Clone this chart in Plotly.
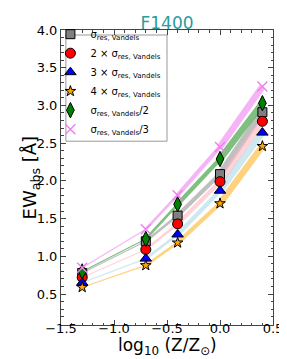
import plotly.graph_objects as go

# ---- data ----
log_z = [-1.3, -0.7, -0.4, 0.0, 0.4]
series_names = [
    "σ<sub>res, Vandels</sub>",
    "2 × σ<sub>res, Vandels</sub>",
    "3 × σ<sub>res, Vandels</sub>",
    "4 × σ<sub>res, Vandels</sub>",
    "σ<sub>res, Vandels</sub>/2",
    "σ<sub>res, Vandels</sub>/3",
]
ew_sigma = [0.78, 1.20, 1.54, 2.09, 2.91]
ew_2sigma = [0.72, 1.09, 1.43, 1.99, 2.79]
ew_3sigma = [0.65, 0.97, 1.29, 1.87, 2.64]
ew_4sigma = [0.59, 0.88, 1.18, 1.70, 2.46]
ew_half = [0.80, 1.23, 1.69, 2.29, 3.03]
ew_third = [0.85, 1.36, 1.81, 2.45, 3.25]
segment_widths = [1.2, 2.6, 4.2, 6.5]
x_ticks = [-1.5, -1.0, -0.5, 0.0, 0.5]
y_ticks = [0.5, 1.0, 1.5, 2.0, 2.5, 3.0, 3.5, 4.0]

all_series = [ew_sigma, ew_2sigma, ew_3sigma, ew_4sigma, ew_half, ew_third]
line_colors = [
    "rgba(128,128,128,0.5)",
    "rgba(255,182,193,0.6)",
    "rgba(173,216,230,0.6)",
    "rgba(255,165,0,0.5)",
    "rgba(0,128,0,0.5)",
    "rgba(238,130,238,0.6)",
]
markers = [
    dict(symbol="square", size=9, color="#808080", line=dict(color="black", width=1)),
    dict(symbol="circle", size=10, color="#ff0000", line=dict(color="black", width=1)),
    dict(symbol="triangle-up", size=10, color="#0000ff", line=dict(color="black", width=1)),
    dict(symbol="star", size=8, color="#ffa500", line=dict(color="black", width=1)),
    dict(symbol="diamond-tall", size=11, color="#008000", line=dict(color="black", width=1)),
    dict(symbol="x-thin", size=10, color="#ee82ee", line=dict(color="#ee82ee", width=1.5)),
]

fig = go.Figure()

# thick translucent lines, drawn segment by segment with growing width
for ys, lc in zip(all_series, line_colors):
    for i, w in enumerate(segment_widths):
        fig.add_trace(go.Scatter(
            x=log_z[i:i + 2], y=ys[i:i + 2], mode="lines",
            line=dict(color=lc, width=w), showlegend=False, hoverinfo="skip"))

for ys, name, mk in zip(all_series, series_names, markers):
    fig.add_trace(go.Scatter(x=log_z, y=ys, mode="markers", name=name, marker=mk))

axis_common = dict(
    showline=True, linecolor="#444", linewidth=1, mirror="allticks",
    ticks="inside", ticklen=5, tickcolor="#444", showgrid=False, zeroline=False,
    tickfont=dict(size=13, color="black"),
)

fig.update_xaxes(
    range=[-1.5, 0.5], tickvals=x_ticks, ticktext=["−1.5", "−1.0", "−0.5", "0.0", "0.5"],
    ticklabelstandoff=-9,
    minor=dict(dtick=0.1, ticks="inside", ticklen=2.5, tickcolor="#444"),
    **axis_common)
fig.update_yaxes(
    range=[0.09, 4.0], tickvals=y_ticks, ticktext=[f"{v:.1f}" for v in y_ticks],
    minor=dict(dtick=0.1, ticks="inside", ticklen=2.5, tickcolor="#444"),
    **axis_common)

# legend frame
fig.add_shape(type="rect", xref="paper", yref="paper", x0=0.023, x1=0.50, y0=0.623, y1=0.983,
              line=dict(color="#999999", width=1), fillcolor="white", layer="below")

fig.add_annotation(text="log<sub>10</sub> (Z/Z<sub>⊙</sub>)", xref="paper", yref="paper",
                   x=0.5, y=-0.028, xanchor="center", yanchor="top", showarrow=False,
                   font=dict(size=17, color="black"))
fig.add_annotation(text="EW<sub>abs</sub> [Å]", xref="paper", yref="paper", textangle=-90,
                   x=-0.142, y=0.5, xanchor="center", yanchor="middle", showarrow=False,
                   font=dict(size=18, color="black"))

fig.update_layout(
    width=287, height=359,
    margin=dict(l=53, r=15, t=20, b=42),
    paper_bgcolor="white", plot_bgcolor="white",
    font=dict(family="DejaVu Sans", color="black"),
    title=dict(text="F1400", font=dict(size=17, color="#2a9d9b"),
               x=0.5, xref="paper", y=1, yref="paper", yanchor="bottom", pad=dict(b=1)),
    legend=dict(x=-0.05, y=1.035, xanchor="left", yanchor="top",
                bgcolor="rgba(0,0,0,0)", borderwidth=0,
                font=dict(size=10), tracegroupgap=0, itemwidth=30),
)

fig.write_html("out.html")
